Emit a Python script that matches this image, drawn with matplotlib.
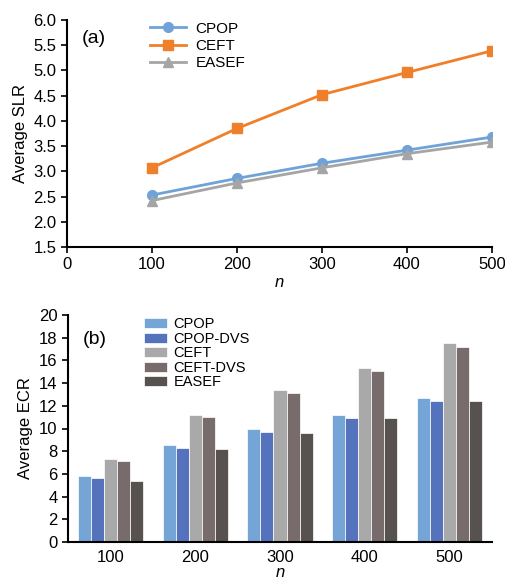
import matplotlib
matplotlib.use("Agg")
import matplotlib.pyplot as plt
import numpy as np

plt.rcParams['font.family'] = ['Liberation Sans', 'DejaVu Sans']

n_vals = [100, 200, 300, 400, 500]
n_labels = ['100', '200', '300', '400', '500']

slr_cpop = [2.53, 2.86, 3.16, 3.42, 3.68]
slr_ceft = [3.07, 3.85, 4.52, 4.96, 5.39]
slr_easef = [2.42, 2.77, 3.07, 3.35, 3.58]

ecr_series = ['CPOP', 'CPOP-DVS', 'CEFT', 'CEFT-DVS', 'EASEF']
ecr_cpop = [5.8, 8.53, 9.94, 11.17, 12.73]
ecr_cpop_dvs = [5.6, 8.24, 9.68, 10.94, 12.43]
ecr_ceft = [7.3, 11.23, 13.4, 15.34, 17.5]
ecr_ceft_dvs = [7.1, 10.97, 13.1, 15.04, 17.16]
ecr_easef = [5.4, 8.18, 9.62, 10.91, 12.4]

W, H = 506, 581
fig = plt.figure(figsize=(W/100, H/100), dpi=100)

def style(ax):
    for s in ['top', 'right']:
        ax.spines[s].set_visible(False)
    for s in ['left', 'bottom']:
        ax.spines[s].set_linewidth(1.5)
        ax.spines[s].set_color('black')
    ax.tick_params(labelsize=12, width=1.2, length=4, direction='out')

# (a)
ax1 = fig.add_axes([67/W, (H-247)/H, 425/W, 227/H])
ax1.plot(n_vals, slr_cpop, color='#6FA3D8', marker='o', ms=7, lw=2, label='CPOP')
ax1.plot(n_vals, slr_ceft, color='#F07F2A', marker='s', ms=7, lw=2, label='CEFT')
ax1.plot(n_vals, slr_easef, color='#A5A5A5', marker='^', ms=7, lw=2, label='EASEF')
ax1.set_xlim(0, 500)
ax1.set_ylim(1.5, 6.0)
ax1.set_xticks([0] + n_vals)
ax1.set_yticks(np.arange(1.5, 6.01, 0.5))
ax1.yaxis.set_major_formatter(matplotlib.ticker.FormatStrFormatter('%.1f'))
style(ax1)
ax1.set_ylabel('Average SLR', fontsize=12, labelpad=4)
ax1.set_xlabel('n', fontsize=12, style='italic', labelpad=2)
ax1.text(0.035, 0.955, '(a)', transform=ax1.transAxes, fontsize=14, va='top', ha='left')
ax1.legend(loc='upper left', bbox_to_anchor=(0.18, 1.02), frameon=False, fontsize=11,
           handlelength=2.4, labelspacing=0.22, handletextpad=0.6, borderaxespad=0)

# (b)
ax2 = fig.add_axes([68/W, (H-542)/H, 424/W, 227/H])
x = np.arange(len(n_vals))
colors = ['#75A5D6', '#5473BC', '#A9A9A9', '#776C6B', '#57524F']
data = [ecr_cpop, ecr_cpop_dvs, ecr_ceft, ecr_ceft_dvs, ecr_easef]
bw = 0.154
for i, (name, vals, c) in enumerate(zip(ecr_series, data, colors)):
    ax2.bar(x + (i - 2) * bw, vals, width=bw, color=c, edgecolor='white', linewidth=0.5, label=name)
ax2.set_xlim(-0.5, 4.5)
ax2.set_ylim(0, 20)
ax2.set_yticks(np.arange(0, 21, 2))
ax2.set_xticks(x)
ax2.set_xticklabels(n_labels)
style(ax2)
ax2.tick_params(axis='x', length=0, pad=6)
ax2.set_ylabel('Average ECR', fontsize=12, labelpad=4)
ax2.set_xlabel('n', fontsize=12, style='italic', labelpad=0)
ax2.text(0.035, 0.93, '(b)', transform=ax2.transAxes, fontsize=14, va='top', ha='left')
ax2.legend(loc='upper left', bbox_to_anchor=(0.165, 1.015), frameon=False, fontsize=10.5,
           handlelength=1.6, handleheight=0.7, labelspacing=0.03, handletextpad=0.45, borderaxespad=0)

fig.savefig('out.png', dpi=100)
